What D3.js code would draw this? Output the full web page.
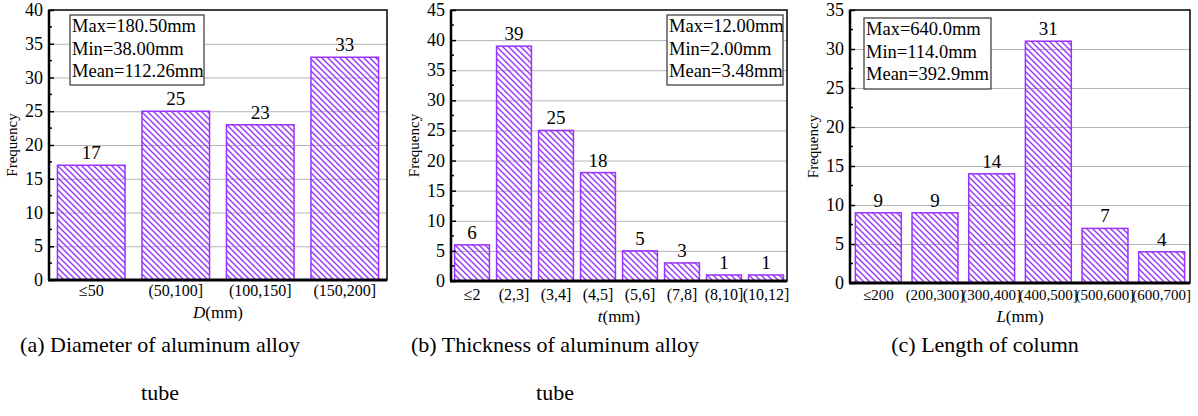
<!DOCTYPE html>
<html>
<head>
<meta charset="utf-8">
<script src="https://cdn.jsdelivr.net/npm/d3@7"></script>
<style>
  body { margin: 0; background: #fff; }
  svg { display: block; }
  text { font-family: "Liberation Serif", "Times New Roman", "DejaVu Serif", serif; fill: #000; }
  .grid line { stroke: #b4b4b4; stroke-width: 1; }
  .grid .domain { display: none; }
</style>
</head>
<body>
<svg id="chart" width="1198" height="416"></svg>
<script>
// categories and frequencies for each panel
var catsA = ['≤50', '(50,100]', '(100,150]', '(150,200]'];
var freqA = [17, 25, 23, 33];
var statsA = ['Max=180.50mm', 'Min=38.00mm', 'Mean=112.26mm'];

var catsB = ['≤2', '(2,3]', '(3,4]', '(4,5]', '(5,6]', '(7,8]', '(8,10]', '(10,12]'];
var freqB = [6, 39, 25, 18, 5, 3, 1, 1];
var statsB = ['Max=12.00mm', 'Min=2.00mm', 'Mean=3.48mm'];

var catsC = ['≤200', '(200,300]', '(300,400]', '(400,500]', '(500,600]', '(600,700]'];
var freqC = [9, 9, 14, 31, 7, 4];
var statsC = ['Max=640.0mm', 'Min=114.0mm', 'Mean=392.9mm'];

var yMaxA = 40, yMaxB = 45, yMaxC = 35;
var captionA = ['(a) Diameter of aluminum alloy', 'tube'];
var captionB = ['(b) Thickness of aluminum alloy', 'tube'];
var captionC = ['(c) Length of column'];

var purple = '#9933ff';

var svg = d3.select('#chart');

// hatch pattern, lines from top-left to bottom-right
var defs = svg.append('defs');
var pat = defs.append('pattern')
  .attr('id', 'hatch')
  .attr('patternUnits', 'userSpaceOnUse')
  .attr('width', 6)
  .attr('height', 6);
pat.append('path')
  .attr('d', 'M0,0 L6,6 M-1,5 L1,7 M5,-1 L7,1')
  .attr('stroke', purple)
  .attr('stroke-width', 1.4);

function drawPanel(p) {
  var g = svg.append('g');

  var x = d3.scaleBand()
    .domain(p.cats)
    .range([p.left, p.right])
    .paddingInner(p.pad)
    .paddingOuter(p.pad / 2);

  var y = d3.scaleLinear()
    .domain([0, p.yMax])
    .range([p.bottom, p.top]);

  var ticks = d3.range(0, p.yMax + 1, 5);
  var minor = d3.range(2.5, p.yMax, 5);

  // gridlines
  g.append('g')
    .attr('class', 'grid')
    .attr('transform', 'translate(' + p.left + ',0)')
    .call(d3.axisLeft(y)
      .tickValues(ticks.filter(function(t) { return t > 0 && t < p.yMax; }))
      .tickSize(-(p.right - p.left))
      .tickFormat('')
    );

  // bars
  g.selectAll('rect.bar')
    .data(p.freq)
    .enter().append('rect')
    .attr('class', 'bar')
    .attr('x', function(d, i) { return x(p.cats[i]); })
    .attr('width', x.bandwidth())
    .attr('y', function(d) { return y(d); })
    .attr('height', function(d) { return y(0) - y(d); })
    .attr('fill', 'url(#hatch)')
    .attr('stroke', purple)
    .attr('stroke-width', 1.5);

  // value labels
  g.selectAll('text.val')
    .data(p.freq)
    .enter().append('text')
    .attr('class', 'val')
    .attr('x', function(d, i) { return x(p.cats[i]) + x.bandwidth() / 2; })
    .attr('y', function(d) { return y(d) - 6; })
    .attr('text-anchor', 'middle')
    .attr('font-size', 19)
    .text(function(d) { return d; });

  // frame
  g.append('rect')
    .attr('x', p.left).attr('y', p.top)
    .attr('width', p.right - p.left).attr('height', p.bottom - p.top)
    .attr('fill', 'none').attr('stroke', '#000').attr('stroke-width', 1.5);

  // y axis with inward ticks
  var yAxis = g.append('g').attr('transform', 'translate(' + p.left + ',0)');
  yAxis.call(d3.axisRight(y).tickValues(ticks).tickSize(5).tickFormat(''));
  yAxis.call(function(s) {
    s.select('.domain').remove();
    s.selectAll('line').attr('stroke', '#000').attr('stroke-width', 1.5);
  });
  yAxis.selectAll('.minor')
    .data(minor)
    .enter().append('line')
    .attr('class', 'minor')
    .attr('x1', 0).attr('x2', 3)
    .attr('y1', function(d) { return y(d); })
    .attr('y2', function(d) { return y(d); })
    .attr('stroke', '#000').attr('stroke-width', 1.5);
  yAxis.selectAll('.ylab')
    .data(ticks)
    .enter().append('text')
    .attr('class', 'ylab')
    .attr('x', -6)
    .attr('y', function(d) { return y(d) + 6; })
    .attr('text-anchor', 'end')
    .attr('font-size', 18)
    .text(function(d) { return d; });

  g.append('line')
    .attr('x1', p.left).attr('x2', p.left)
    .attr('y1', p.top).attr('y2', p.bottom)
    .attr('stroke', '#000').attr('stroke-width', 2.5);
  g.append('line')
    .attr('x1', p.left - 1).attr('x2', p.right)
    .attr('y1', p.bottom).attr('y2', p.bottom)
    .attr('stroke', '#000').attr('stroke-width', 3);

  // x tick labels
  g.selectAll('text.xlab')
    .data(p.cats)
    .enter().append('text')
    .attr('class', 'xlab')
    .attr('x', function(d) { return x(d) + x.bandwidth() / 2; })
    .attr('y', p.bottom + p.xLabDy)
    .attr('text-anchor', 'middle')
    .attr('font-size', p.xFont)
    .text(function(d) { return d; });

  // axis titles
  var xt = g.append('text')
    .attr('x', (p.left + p.right) / 2)
    .attr('y', p.bottom + p.xLabDy + 22)
    .attr('text-anchor', 'middle')
    .attr('font-size', 17);
  xt.append('tspan').attr('font-style', 'italic').text(p.xVar);
  xt.append('tspan').text('(mm)');

  g.append('text')
    .attr('transform', 'translate(' + p.yTitleX + ',' + ((p.top + p.bottom) / 2) + ') rotate(-90)')
    .attr('text-anchor', 'middle')
    .attr('font-size', 15)
    .text('Frequency');

  // stats box
  var b = p.box;
  g.append('rect')
    .attr('x', b.x).attr('y', b.y)
    .attr('width', b.w).attr('height', b.h)
    .attr('fill', '#fff').attr('stroke', '#333').attr('stroke-width', 1.2);
  g.selectAll('text.stat')
    .data(p.stats)
    .enter().append('text')
    .attr('class', 'stat')
    .attr('x', b.x + 2)
    .attr('y', function(d, i) { return b.y + 17 + i * 22.5; })
    .attr('font-size', 18.5)
    .text(function(d) { return d; });

  // caption
  g.selectAll('text.cap')
    .data(p.caption)
    .enter().append('text')
    .attr('class', 'cap')
    .attr('x', p.capX)
    .attr('y', function(d, i) { return 352 + i * 48; })
    .attr('text-anchor', 'middle')
    .attr('font-size', 22)
    .text(function(d) { return d; });
}

drawPanel({
  cats: catsA, freq: freqA, stats: statsA, yMax: yMaxA, xVar: 'D', caption: captionA,
  left: 49, right: 387, top: 10, bottom: 280, pad: 0.2, xFont: 16, xLabDy: 16, yTitleX: 17,
  box: { x: 70, y: 15, w: 134, h: 70 }, capX: 160
});

drawPanel({
  cats: catsB, freq: freqB, stats: statsB, yMax: yMaxB, xVar: 't', caption: captionB,
  left: 451, right: 787, top: 10, bottom: 281, pad: 0.17, xFont: 16, xLabDy: 19, yTitleX: 419,
  box: { x: 667, y: 15, w: 116, h: 70 }, capX: 555
});

drawPanel({
  cats: catsC, freq: freqC, stats: statsC, yMax: yMaxC, xVar: 'L', caption: captionC,
  left: 850, right: 1190, top: 10, bottom: 283, pad: 0.19, xFont: 15, xLabDy: 17, yTitleX: 818,
  box: { x: 864, y: 18, w: 127, h: 71 }, capX: 985
});
</script>
</body>
</html>
